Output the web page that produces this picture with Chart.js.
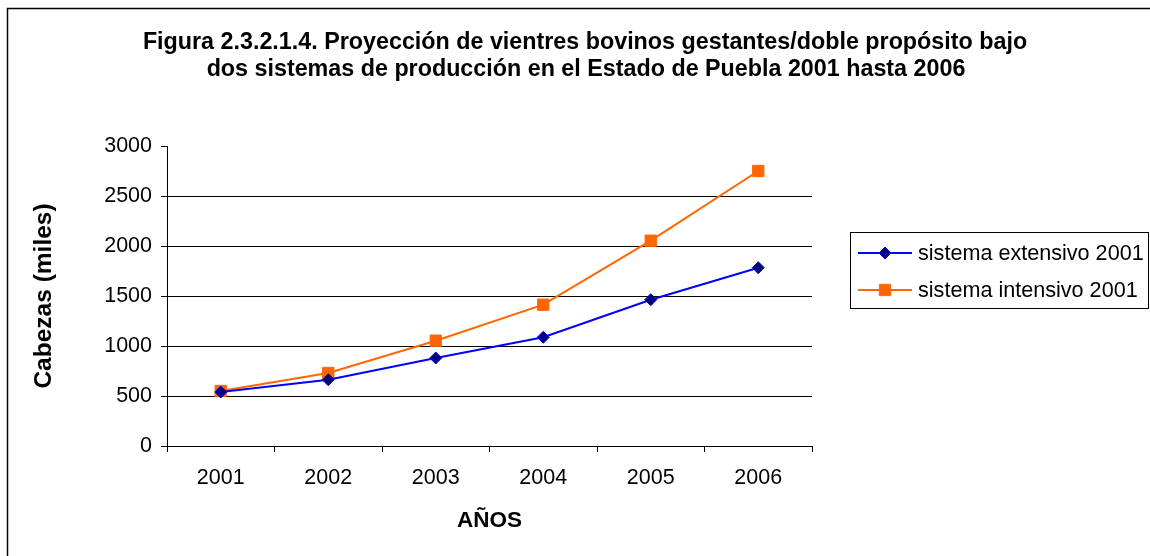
<!DOCTYPE html>
<html>
<head>
<meta charset="utf-8">
<script src="https://cdn.jsdelivr.net/npm/chart.js@4.4.1/dist/chart.umd.min.js"></script>
<style>
  html, body { margin: 0; padding: 0; background: #ffffff; }
  canvas { display: block; }
</style>
</head>
<body>
<canvas id="c" width="1150" height="556"></canvas>
<script>
const titleLines = [
  'Figura 2.3.2.1.4. Proyección de vientres bovinos gestantes/doble propósito bajo',
  'dos sistemas de producción en el Estado de Puebla 2001 hasta 2006'
];
const years = ['2001', '2002', '2003', '2004', '2005', '2006'];
const extensivo = [540, 663, 880, 1087, 1463, 1783];
const intensivo = [550, 730, 1053, 1413, 2053, 2750];
const seriesNames = ['sistema extensivo 2001', 'sistema intensivo 2001'];
const yTitle = 'Cabezas (miles)';
const xTitle = 'AÑOS';

const FONT = "'Liberation Sans', Arial, sans-serif";

const framePlugin = {
  id: 'frame',
  beforeDraw(chart) {
    const ctx = chart.ctx;
    ctx.save();
    ctx.fillStyle = '#ffffff';
    ctx.fillRect(0, 0, chart.width, chart.height);
    ctx.strokeStyle = '#000000';
    ctx.lineWidth = 1.5;
    ctx.beginPath();
    ctx.moveTo(7.5, chart.height + 5);
    ctx.lineTo(7.5, 8.5);
    ctx.lineTo(chart.width + 5, 8.5);
    ctx.stroke();
    ctx.restore();
  }
};

const titlePlugin = {
  id: 'customTitle',
  afterDraw(chart) {
    const ctx = chart.ctx;
    ctx.save();
    ctx.fillStyle = '#000000';
    ctx.font = 'bold 23.3px ' + FONT;
    ctx.textAlign = 'center';
    ctx.textBaseline = 'alphabetic';
    ctx.fillText(titleLines[0], 585, 49);
    ctx.fillText(titleLines[1], 586, 76);
    ctx.restore();
  }
};

const legendPlugin = {
  id: 'customLegend',
  afterDraw(chart) {
    const ctx = chart.ctx;
    ctx.save();
    ctx.strokeStyle = '#000000';
    ctx.lineWidth = 1;
    ctx.strokeRect(850.5, 232.5, 298, 76);
    const rowsY = [253, 290];
    chart.data.datasets.forEach((ds, i) => {
      const y = rowsY[i];
      ctx.strokeStyle = ds.borderColor;
      ctx.lineWidth = 2;
      ctx.beginPath();
      ctx.moveTo(858, y);
      ctx.lineTo(912, y);
      ctx.stroke();
      ctx.fillStyle = ds.pointBackgroundColor;
      ctx.strokeStyle = ds.pointBorderColor;
      ctx.lineWidth = 1;
      Chart.helpers.drawPoint(ctx, {
        pointStyle: ds.pointStyle,
        radius: ds.pointRadius,
        borderWidth: 1,
        rotation: 0
      }, 885, y);
      ctx.fillStyle = '#000000';
      ctx.font = '21.6px ' + FONT;
      ctx.textAlign = 'left';
      ctx.textBaseline = 'middle';
      ctx.fillText(ds.label, 918, y + 1);
    });
    ctx.restore();
  }
};

new Chart(document.getElementById('c'), {
  type: 'line',
  data: {
    labels: years,
    datasets: [
      {
        label: seriesNames[0],
        data: extensivo,
        borderColor: '#0000FF',
        borderWidth: 2,
        pointStyle: 'rectRot',
        pointRadius: 6,
        pointBackgroundColor: '#000080',
        pointBorderColor: '#0000FF',
        pointBorderWidth: 1,
        tension: 0
      },
      {
        label: seriesNames[1],
        data: intensivo,
        borderColor: '#FF6600',
        borderWidth: 2,
        pointStyle: 'rect',
        pointRadius: 8,
        pointBackgroundColor: '#FF6600',
        pointBorderColor: '#FF6600',
        pointBorderWidth: 1,
        tension: 0
      }
    ]
  },
  options: {
    responsive: false,
    animation: false,
    events: [],
    layout: { padding: { left: 0, right: 338, top: 146, bottom: 0 } },
    plugins: {
      legend: { display: false },
      title: { display: false },
      tooltip: { enabled: false }
    },
    scales: {
      x: {
        type: 'category',
        offset: true,
        grid: {
          offset: true,
          drawOnChartArea: false,
          drawTicks: true,
          tickLength: 6,
          color: '#000000',
          tickColor: '#000000'
        },
        border: { color: '#000000', width: 1 },
        ticks: {
          color: '#000000',
          font: { family: FONT, size: 21.5 },
          padding: 13,
          maxRotation: 0,
          minRotation: 0
        },
        title: {
          display: true,
          text: xTitle,
          color: '#000000',
          font: { family: FONT, size: 22.5, weight: 'bold' },
          padding: { top: 0, bottom: 22 }
        },
        afterFit(scale) { scale.height = 110; }
      },
      y: {
        min: 0,
        max: 3000,
        grid: {
          drawTicks: true,
          tickLength: 6,
          color: (c) => (c.tick && c.tick.value === 3000) ? 'rgba(0,0,0,0)' : '#000000',
          tickColor: '#000000'
        },
        border: { color: '#000000', width: 1 },
        ticks: {
          stepSize: 500,
          color: '#000000',
          font: { family: FONT, size: 21.5 },
          padding: 9,
          callback: (v) => String(v)
        },
        title: {
          display: true,
          text: yTitle,
          color: '#000000',
          font: { family: FONT, size: 24.5, weight: 'bold' },
          padding: { top: 30, bottom: 0 }
        },
        afterFit(scale) { scale.width = 167; }
      }
    }
  },
  plugins: [framePlugin, titlePlugin, legendPlugin]
});
</script>
</body>
</html>
